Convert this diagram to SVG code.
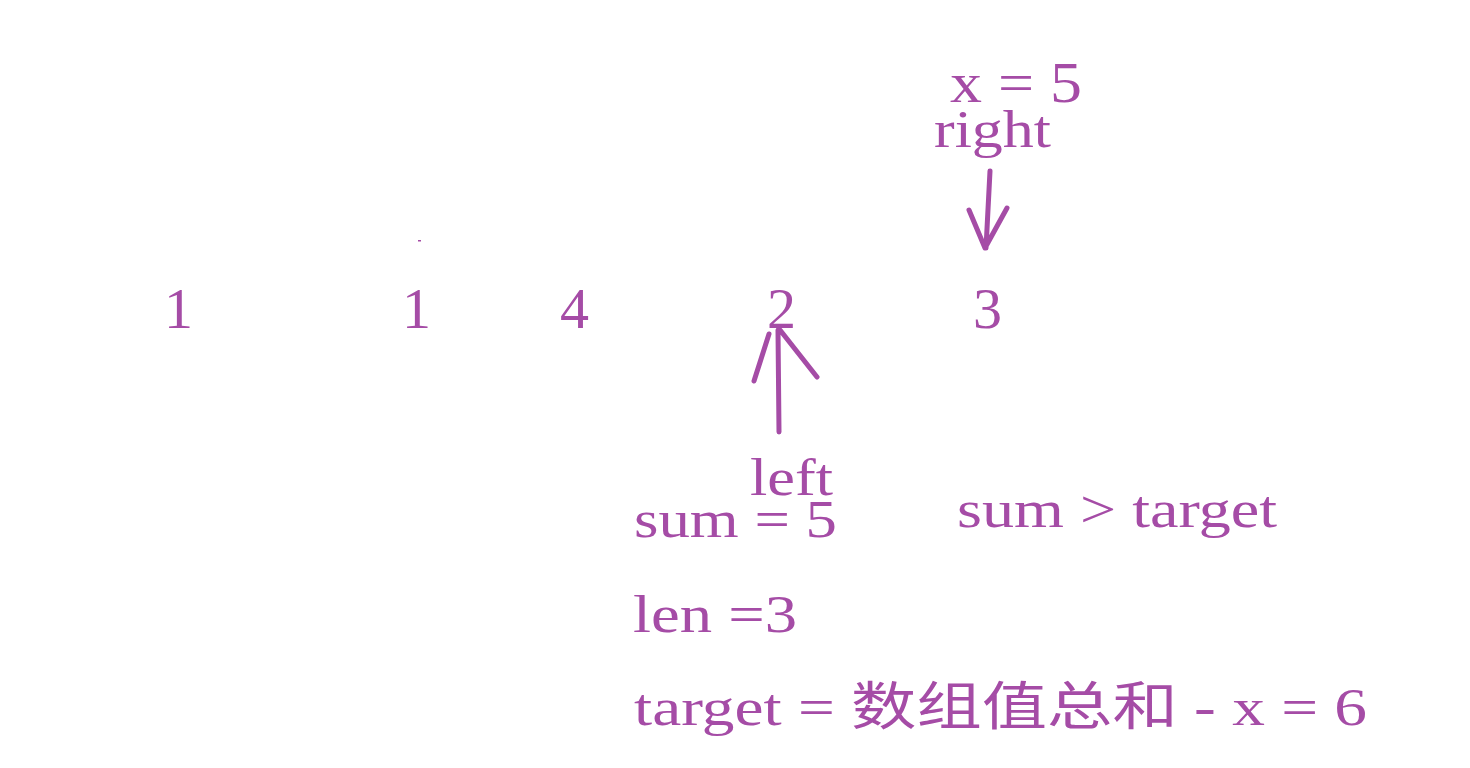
<svg xmlns="http://www.w3.org/2000/svg" width="1470" height="768" viewBox="0 0 1470 768">
<style>
.t{font-family:"Liberation Serif","Noto Sans CJK SC",serif;fill:#a54ca6;}
.n{font-size:58px;}
.l{font-size:52px;}
.a{fill:none;stroke:#a54ca6;stroke-width:5;stroke-linecap:round;stroke-linejoin:round;}
</style>
<rect width="1470" height="768" fill="#fff"/>
<g id="nums">
<text class="t n" x="164" y="328">1</text>
<text class="t n" x="402" y="328">1</text>
<text class="t n" x="560" y="328">4</text>
<text class="t n" x="767" y="328">2</text>
<text class="t n" x="973" y="328">3</text>
</g>
<rect x="418" y="240" width="3" height="1.5" fill="#a54ca6"/>
<g id="labels">
<text class="t n" x="950" y="102" textLength="132" lengthAdjust="spacingAndGlyphs">x = 5</text>
<text class="t l" x="934" y="147" textLength="117" lengthAdjust="spacingAndGlyphs">right</text>
<text class="t l" x="750" y="495" textLength="83" lengthAdjust="spacingAndGlyphs">left</text>
<text class="t l" x="634" y="537" textLength="203" lengthAdjust="spacingAndGlyphs">sum = 5</text>
<text class="t l" x="957" y="527" textLength="320" lengthAdjust="spacingAndGlyphs">sum &gt; target</text>
<text class="t l" x="633" y="632" textLength="164" lengthAdjust="spacingAndGlyphs">len =3</text>
<text class="t l" x="634" y="725" textLength="733" lengthAdjust="spacingAndGlyphs">target = 数组值总和 - x =  6</text>
</g>
<g id="connectors">
<path class="a" d="M990 171 L986 248 M969 210 L985 248 L1007 208"/>
<path class="a" d="M779 432 L778 330 M754 381 L769 334 M817 377 L780 330"/>
</g>
</svg>
